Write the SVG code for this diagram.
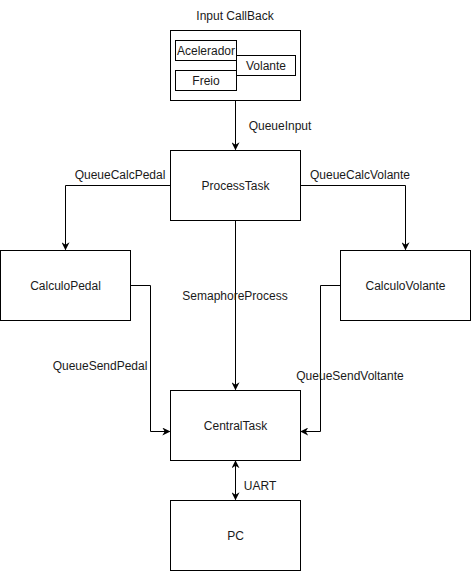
<svg xmlns="http://www.w3.org/2000/svg" width="471" height="571" viewBox="0 0 471 571">
<style>
.box{fill:#fff;stroke:#000;stroke-width:1}
.t{font-family:"Liberation Sans",Arial,sans-serif;font-size:12px;fill:#1a1a1a;text-anchor:middle}
.c{fill:none;stroke:#000;stroke-width:1}
</style>
<defs>
<marker id="ah" viewBox="0 0 10 10" refX="9" refY="5" markerWidth="8" markerHeight="8" markerUnits="userSpaceOnUse" orient="auto-start-reverse">
<path d="M0,0 L10,5 L0,10 L3,5 Z" fill="#000"/>
</marker>
</defs>
<rect width="471" height="571" fill="#fff"/>
<g id="connectors">
<path class="c" d="M235.5,100.5 V149.5" marker-end="url(#ah)"/>
<path class="c" d="M170.5,185.5 H65.5 V249.5" marker-end="url(#ah)"/>
<path class="c" d="M300.5,185.5 H405.5 V249.5" marker-end="url(#ah)"/>
<path class="c" d="M235.5,220.5 V389.5" marker-end="url(#ah)"/>
<path class="c" d="M130.5,285.5 H150.5 V431.5 H169.5" marker-end="url(#ah)"/>
<path class="c" d="M340.5,285.5 H320.5 V431.5 H301" marker-end="url(#ah)"/>
<path class="c" d="M235.5,461 V499.5" marker-start="url(#ah)" marker-end="url(#ah)"/>
<text class="t" x="280" y="130">QueueInput</text>
<text class="t" x="120" y="179">QueueCalcPedal</text>
<text class="t" x="360" y="179">QueueCalcVolante</text>
<text class="t" x="235" y="300">SemaphoreProcess</text>
<text class="t" x="100" y="370">QueueSendPedal</text>
<text class="t" x="350" y="380">QueueSendVoltante</text>
<text class="t" x="260" y="490">UART</text>
</g>
<g id="input-callback">
<text class="t" x="235" y="20">Input CallBack</text>
<rect class="box" x="170.5" y="30.5" width="130" height="70"/>
</g>
<g id="acelerador">
<rect class="box" x="175.5" y="40.5" width="61" height="20"/>
<text class="t" x="206" y="55">Acelerador</text>
</g>
<g id="volante">
<rect class="box" x="236.5" y="55.5" width="59" height="20"/>
<text class="t" x="266" y="70">Volante</text>
</g>
<g id="freio">
<rect class="box" x="175.5" y="70.5" width="61" height="20"/>
<text class="t" x="206" y="85">Freio</text>
</g>
<g id="process-task">
<rect class="box" x="170.5" y="150.5" width="130" height="70"/>
<text class="t" x="235.5" y="190">ProcessTask</text>
</g>
<g id="calculo-pedal">
<rect class="box" x="0.5" y="250.5" width="130" height="70"/>
<text class="t" x="65.5" y="290">CalculoPedal</text>
</g>
<g id="calculo-volante">
<rect class="box" x="340.5" y="250.5" width="130" height="70"/>
<text class="t" x="405.5" y="290">CalculoVolante</text>
</g>
<g id="central-task">
<rect class="box" x="170.5" y="390.5" width="130" height="70"/>
<text class="t" x="235.5" y="430">CentralTask</text>
</g>
<g id="pc">
<rect class="box" x="170.5" y="500.5" width="130" height="70"/>
<text class="t" x="235.5" y="540">PC</text>
</g>
</svg>
